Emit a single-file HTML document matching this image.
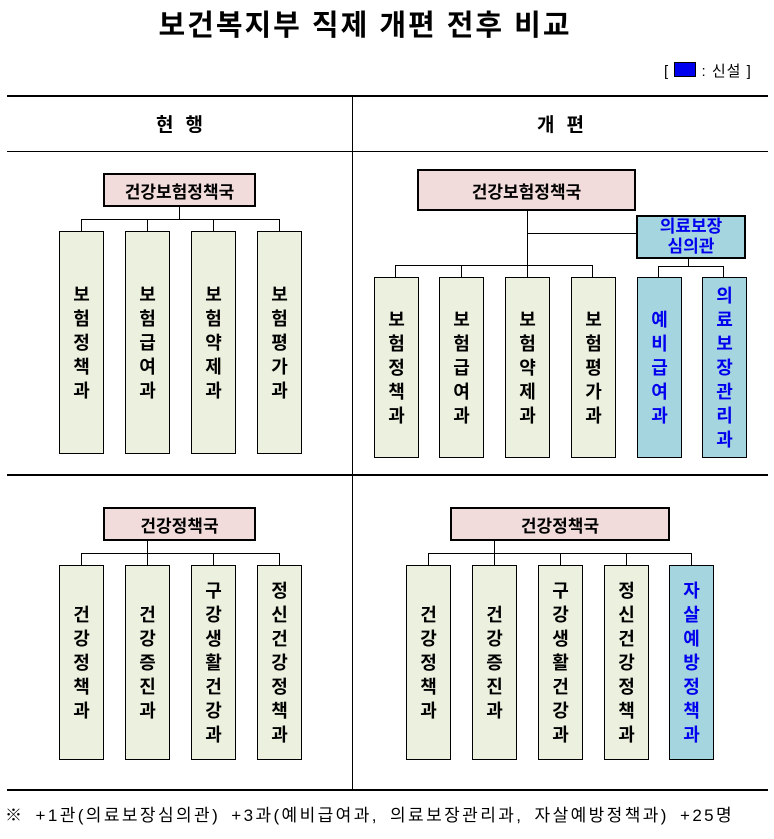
<!DOCTYPE html>
<html><head><meta charset="utf-8"><style>
body{margin:0;width:774px;height:839px;background:#fff;position:relative;overflow:hidden;font-family:"Liberation Sans","Noto Sans CJK KR","NanumGothic",sans-serif;}
div{position:absolute;box-sizing:border-box;}
.h{background:#000;}
.hd{background:#f2dcdb;border:2px solid #000;font-weight:bold;font-size:17px;display:flex;align-items:center;justify-content:center;}
.bx{background:#ebf1de;border:1px solid #000;font-weight:bold;font-size:18px;display:flex;align-items:center;justify-content:center;text-align:center;line-height:24px;}
.nw{background:#a5d5de;color:#0000ee;}
.ln{background:#000;}
</style></head><body>
<div style="left:0;top:2px;width:730px;text-align:center;font-size:29px;font-weight:bold;letter-spacing:2px">보건복지부 직제 개편 전후 비교</div>
<div style="left:664px;top:60px;font-size:15px;letter-spacing:1px;white-space:nowrap">[ <span style="display:inline-block;width:20px;height:13px;background:#0000ee;border:1px solid #000;vertical-align:-1px"></span> : 신설 ]</div>

<div class="h" style="left:7px;top:95px;width:761px;height:2px"></div>
<div class="h" style="left:7px;top:151px;width:761px;height:1px"></div>
<div class="h" style="left:7px;top:474px;width:761px;height:2px"></div>
<div class="h" style="left:7px;top:789px;width:761px;height:2px"></div>
<div class="h" style="left:352px;top:96px;width:1px;height:694px"></div>
<div style="left:7px;top:110px;width:345px;text-align:center;font-size:19px;font-weight:bold;letter-spacing:12px;padding-left:12px">현행</div>
<div style="left:353px;top:110px;width:415px;text-align:center;font-size:19px;font-weight:bold;letter-spacing:12px;padding-left:12px">개편</div>

<!-- top left -->
<div class="hd" style="left:103px;top:173px;width:153px;height:34px">건강보험정책국</div>
<div class="ln" style="left:179px;top:207px;width:1px;height:13px"></div>
<div class="ln" style="left:81px;top:219px;width:199px;height:1px"></div>
<div class="ln" style="left:81px;top:219px;width:1px;height:12px"></div>
<div class="ln" style="left:147px;top:219px;width:1px;height:12px"></div>
<div class="ln" style="left:213px;top:219px;width:1px;height:12px"></div>
<div class="ln" style="left:279px;top:219px;width:1px;height:12px"></div>
<div class="bx" style="left:59px;top:231px;width:45px;height:223px">보<br>험<br>정<br>책<br>과</div>
<div class="bx" style="left:125px;top:231px;width:45px;height:223px">보<br>험<br>급<br>여<br>과</div>
<div class="bx" style="left:191px;top:231px;width:45px;height:223px">보<br>험<br>약<br>제<br>과</div>
<div class="bx" style="left:257px;top:231px;width:45px;height:223px">보<br>험<br>평<br>가<br>과</div>

<!-- top right -->
<div class="hd" style="left:417px;top:169px;width:219px;height:42px">건강보험정책국</div>
<div class="ln" style="left:527px;top:211px;width:1px;height:54px"></div>
<div class="ln" style="left:527px;top:233px;width:110px;height:1px"></div>
<div class="hd nw" style="left:636px;top:215px;width:110px;height:44px;line-height:20px;text-align:center;flex-direction:column">의료보장<br>심의관</div>
<div class="ln" style="left:395px;top:265px;width:198px;height:1px"></div>
<div class="ln" style="left:395px;top:265px;width:1px;height:12px"></div>
<div class="ln" style="left:461px;top:265px;width:1px;height:12px"></div>
<div class="ln" style="left:527px;top:265px;width:1px;height:12px"></div>
<div class="ln" style="left:592px;top:265px;width:1px;height:12px"></div>
<div class="ln" style="left:688px;top:259px;width:1px;height:7px"></div>
<div class="ln" style="left:658px;top:266px;width:66px;height:1px"></div>
<div class="ln" style="left:658px;top:266px;width:1px;height:11px"></div>
<div class="ln" style="left:723px;top:266px;width:1px;height:11px"></div>
<div class="bx" style="left:374px;top:277px;width:45px;height:181px">보<br>험<br>정<br>책<br>과</div>
<div class="bx" style="left:439px;top:277px;width:45px;height:181px">보<br>험<br>급<br>여<br>과</div>
<div class="bx" style="left:505px;top:277px;width:45px;height:181px">보<br>험<br>약<br>제<br>과</div>
<div class="bx" style="left:571px;top:277px;width:45px;height:181px">보<br>험<br>평<br>가<br>과</div>
<div class="bx nw" style="left:637px;top:277px;width:45px;height:181px">예<br>비<br>급<br>여<br>과</div>
<div class="bx nw" style="left:702px;top:277px;width:45px;height:181px">의<br>료<br>보<br>장<br>관<br>리<br>과</div>

<!-- bottom left -->
<div class="hd" style="left:103px;top:507px;width:153px;height:34px">건강정책국</div>
<div class="ln" style="left:147px;top:541px;width:1px;height:13px"></div>
<div class="ln" style="left:81px;top:553px;width:199px;height:1px"></div>
<div class="ln" style="left:81px;top:553px;width:1px;height:12px"></div>
<div class="ln" style="left:147px;top:553px;width:1px;height:12px"></div>
<div class="ln" style="left:213px;top:553px;width:1px;height:12px"></div>
<div class="ln" style="left:279px;top:553px;width:1px;height:12px"></div>
<div class="bx" style="left:59px;top:565px;width:45px;height:195px">건<br>강<br>정<br>책<br>과</div>
<div class="bx" style="left:125px;top:565px;width:45px;height:195px">건<br>강<br>증<br>진<br>과</div>
<div class="bx" style="left:191px;top:565px;width:45px;height:195px">구<br>강<br>생<br>활<br>건<br>강<br>과</div>
<div class="bx" style="left:257px;top:565px;width:45px;height:195px">정<br>신<br>건<br>강<br>정<br>책<br>과</div>

<!-- bottom right -->
<div class="hd" style="left:450px;top:507px;width:220px;height:34px">건강정책국</div>
<div class="ln" style="left:494px;top:541px;width:1px;height:13px"></div>
<div class="ln" style="left:428px;top:553px;width:264px;height:1px"></div>
<div class="ln" style="left:428px;top:553px;width:1px;height:12px"></div>
<div class="ln" style="left:494px;top:553px;width:1px;height:12px"></div>
<div class="ln" style="left:560px;top:553px;width:1px;height:12px"></div>
<div class="ln" style="left:626px;top:553px;width:1px;height:12px"></div>
<div class="ln" style="left:691px;top:553px;width:1px;height:12px"></div>
<div class="bx" style="left:406px;top:565px;width:45px;height:195px">건<br>강<br>정<br>책<br>과</div>
<div class="bx" style="left:472px;top:565px;width:45px;height:195px">건<br>강<br>증<br>진<br>과</div>
<div class="bx" style="left:538px;top:565px;width:45px;height:195px">구<br>강<br>생<br>활<br>건<br>강<br>과</div>
<div class="bx" style="left:604px;top:565px;width:45px;height:195px">정<br>신<br>건<br>강<br>정<br>책<br>과</div>
<div class="bx nw" style="left:669px;top:565px;width:45px;height:195px">자<br>살<br>예<br>방<br>정<br>책<br>과</div>

<div style="left:5px;top:801px;font-size:17px;white-space:nowrap;letter-spacing:2.4px;word-spacing:4px">※ +1관(의료보장심의관) +3과(예비급여과, 의료보장관리과, 자살예방정책과) +25명</div>
</body></html>
